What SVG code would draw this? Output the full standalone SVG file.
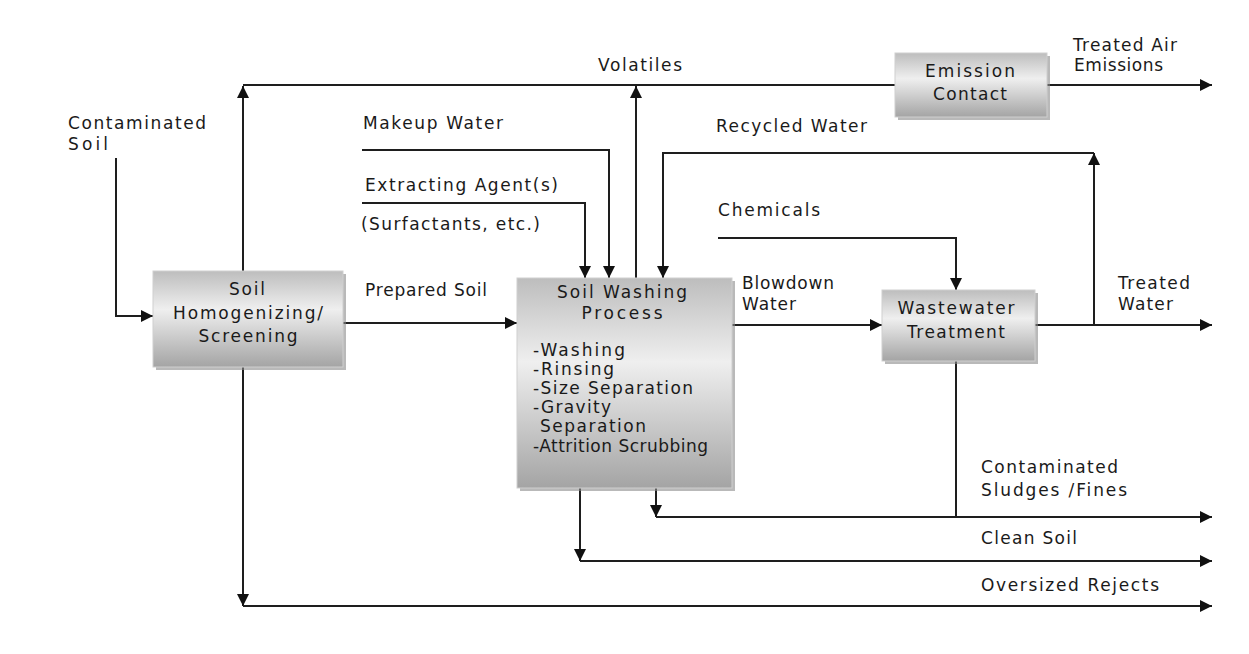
<svg xmlns="http://www.w3.org/2000/svg" width="1249" height="654" viewBox="0 0 1249 654">
<defs>
<linearGradient id="g" x1="0" y1="0" x2="0" y2="1">
<stop offset="0" stop-color="#bdbdbd"/>
<stop offset="0.4" stop-color="#efefef"/>
<stop offset="1" stop-color="#a4a4a4"/>
</linearGradient>
<marker id="a" markerUnits="userSpaceOnUse" markerWidth="14" markerHeight="14" refX="12" refY="7" orient="auto">
<path d="M0,1 L12,7 L0,13 z" fill="#111"/>
</marker>
<style>
text{font-family:"DejaVu Sans","Liberation Sans",sans-serif;font-size:17px;fill:#1a1a1a}
.c{text-anchor:middle}
.box{fill:url(#g);stroke:#cfcfcf;stroke-width:1}
.sh{fill:#8a8a8a;opacity:0.6}
#connectors path{fill:none;stroke:#1e1e1e;stroke-width:2}
.m{marker-end:url(#a)}
</style>
</defs>
<rect width="1249" height="654" fill="#fff"/>
<g id="connectors">
<path class="m" d="M116 158 V316 H153"/>
<path d="M243 85 H895"/>
<path class="m" d="M243 271 V86"/>
<path class="m" d="M636 278 V86"/>
<path class="m" d="M1047 85 H1212"/>
<path class="m" d="M362 150 H609 V278"/>
<path class="m" d="M362 203 H585 V278"/>
<path class="m" d="M1094 325 V153"/>
<path class="m" d="M1094 153 H663 V278"/>
<path class="m" d="M718 238 H956 V290"/>
<path class="m" d="M343 323 H517"/>
<path class="m" d="M732 325 H882"/>
<path class="m" d="M1035 325 H1212"/>
<path d="M956 361 V517"/>
<path class="m" d="M656 488 V517"/>
<path class="m" d="M656 517 H1212"/>
<path class="m" d="M580 488 V561"/>
<path class="m" d="M580 561 H1212"/>
<path class="m" d="M243 367 V606"/>
<path class="m" d="M243 606 H1212"/>
</g>
<g id="homog">
<rect class="sh" x="156" y="274" width="190" height="96"/>
<rect class="box" x="153" y="271" width="190" height="96"/>
<text class="c" x="247" y="295" textLength="36">Soil</text>
<text class="c" x="248" y="319" textLength="150">Homogenizing/</text>
<text class="c" x="248" y="342" textLength="99">Screening</text>
</g>
<g id="washing">
<rect class="sh" x="520" y="281" width="215" height="210"/>
<rect class="box" x="517" y="278" width="215" height="210"/>
<text class="c" x="622" y="298" textLength="130">Soil Washing</text>
<text class="c" x="622" y="319" textLength="81">Process</text>
<text x="533" y="356" textLength="92">-Washing</text>
<text x="533" y="375" textLength="81">-Rinsing</text>
<text x="533" y="394" textLength="160">-Size Separation</text>
<text x="533" y="413" textLength="78">-Gravity</text>
<text x="540" y="432" textLength="106">Separation</text>
<text x="533" y="452" textLength="175">-Attrition Scrubbing</text>
</g>
<g id="emission">
<rect class="sh" x="898" y="56" width="152" height="64"/>
<rect class="box" x="895" y="53" width="152" height="64"/>
<text class="c" x="970" y="77" textLength="90">Emission</text>
<text class="c" x="970" y="100" textLength="74">Contact</text>
</g>
<g id="wwt">
<rect class="sh" x="885" y="293" width="153" height="71"/>
<rect class="box" x="882" y="290" width="153" height="71"/>
<text class="c" x="956" y="314" textLength="117">Wastewater</text>
<text class="c" x="956" y="338" textLength="98">Treatment</text>
</g>
<g id="labels">
<text x="68" y="129" textLength="138">Contaminated</text>
<text x="68" y="150" textLength="40">Soil</text>
<text x="598" y="71" textLength="84">Volatiles</text>
<text x="1073" y="51" textLength="104">Treated Air</text>
<text x="1074" y="71" textLength="89">Emissions</text>
<text x="363" y="129" textLength="140">Makeup Water</text>
<text x="365" y="191" textLength="193">Extracting Agent(s)</text>
<text x="361" y="230" textLength="179">(Surfactants, etc.)</text>
<text x="716" y="132" textLength="151">Recycled Water</text>
<text x="718" y="216" textLength="102">Chemicals</text>
<text x="365" y="296" textLength="122">Prepared Soil</text>
<text x="742" y="289" textLength="92">Blowdown</text>
<text x="742" y="310" textLength="54">Water</text>
<text x="1118" y="289" textLength="72">Treated</text>
<text x="1118" y="310" textLength="55">Water</text>
<text x="981" y="473" textLength="137">Contaminated</text>
<text x="981" y="496" textLength="146">Sludges /Fines</text>
<text x="981" y="544" textLength="96">Clean Soil</text>
<text x="981" y="591" textLength="178">Oversized Rejects</text>
</g>
</svg>
